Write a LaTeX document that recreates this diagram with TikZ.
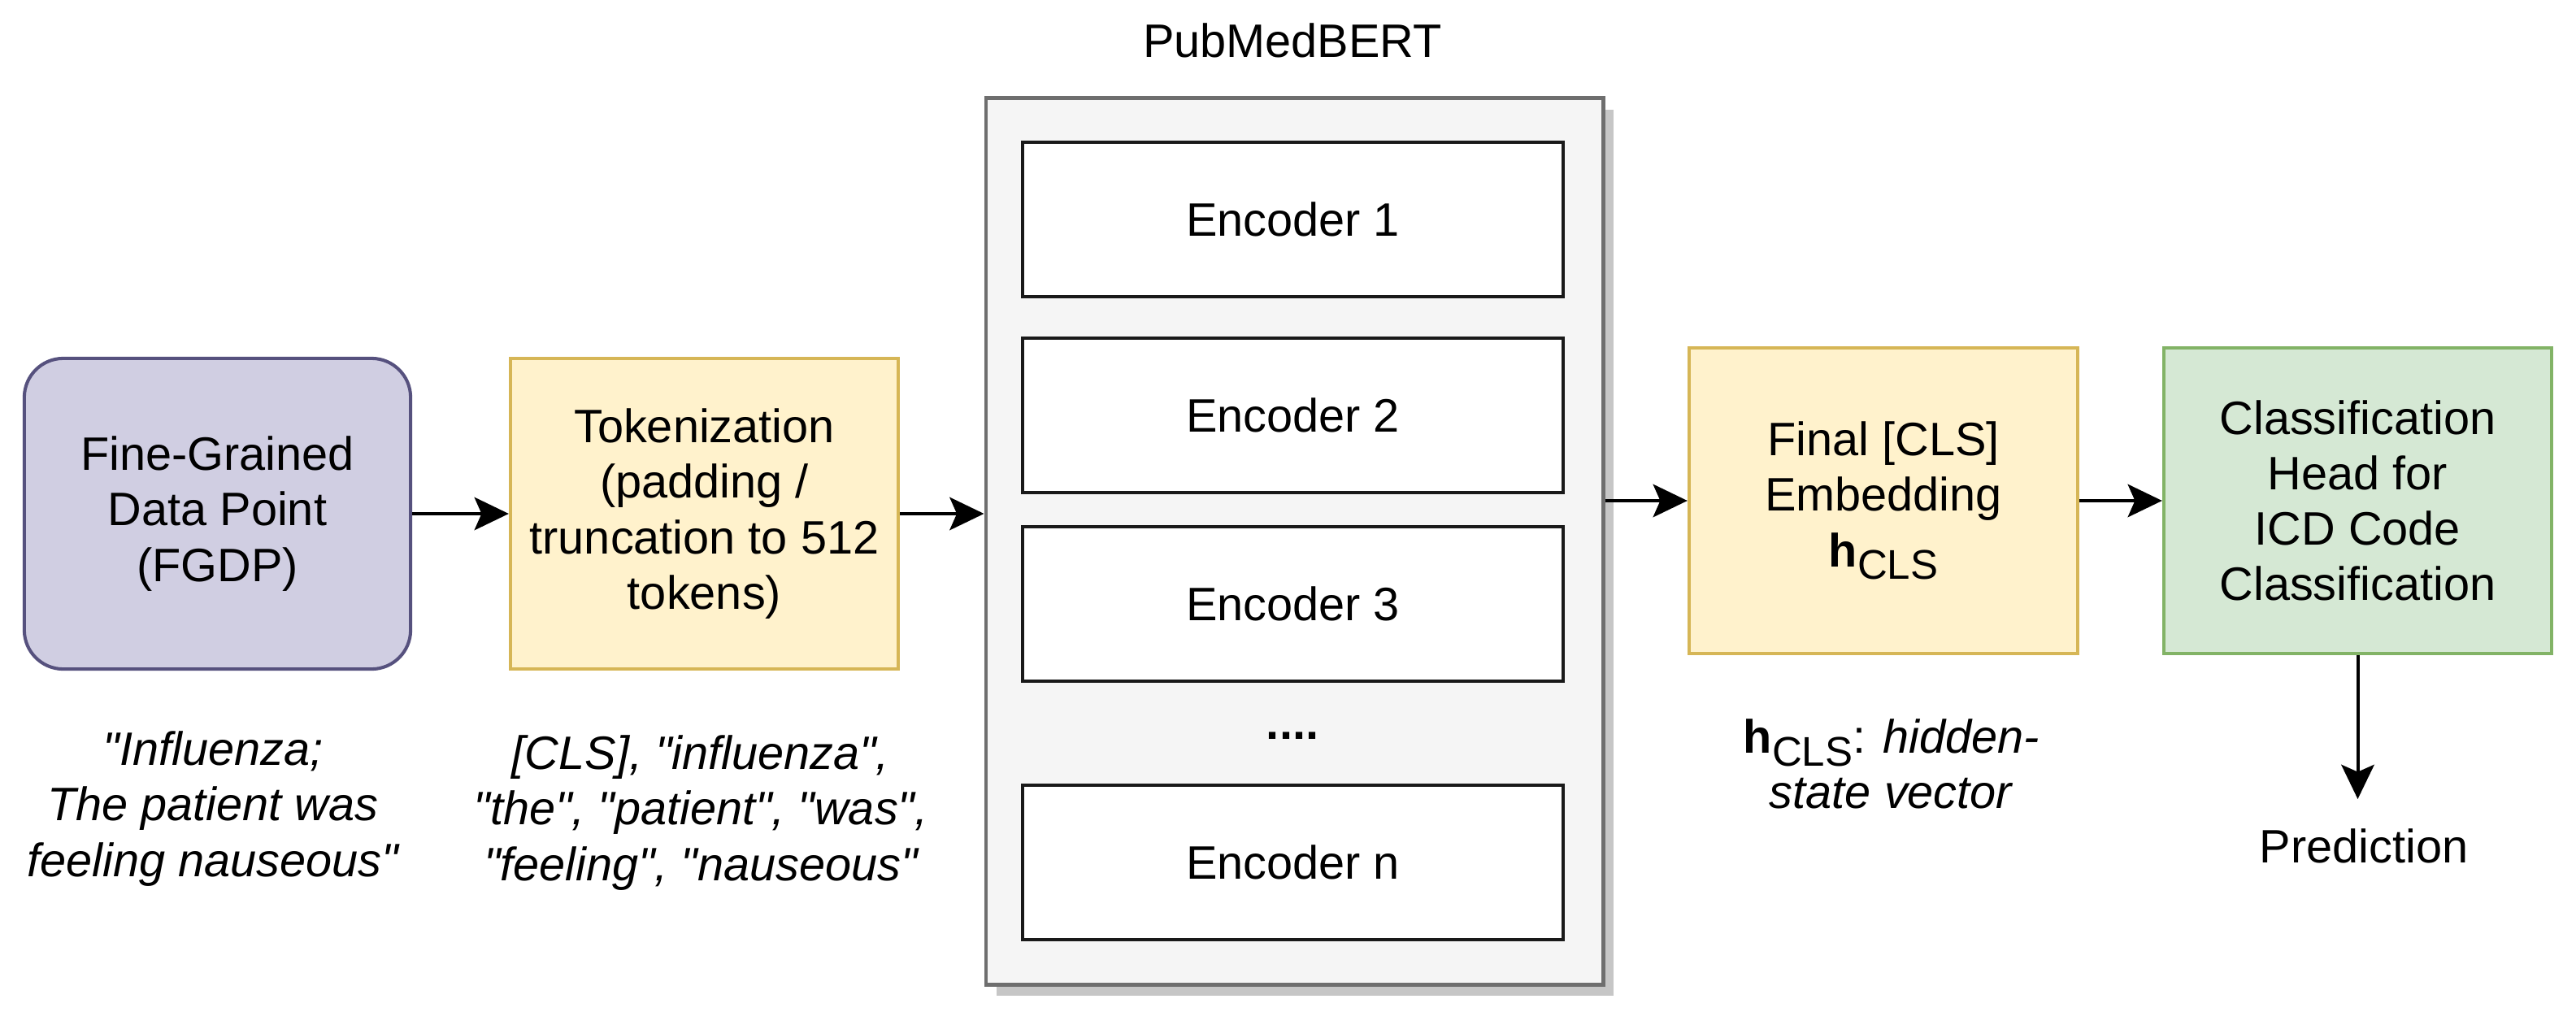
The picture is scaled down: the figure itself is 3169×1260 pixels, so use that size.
\documentclass[tikz,border=0pt]{standalone}
\usepackage{fontspec}
\setmainfont{Liberation Sans}[Ligatures=TeXOff]
\usetikzlibrary{arrows.meta,shadows}
\definecolor{purfill}{HTML}{D0CEE2}
\definecolor{purline}{HTML}{56517E}
\definecolor{yelfill}{HTML}{FFF2CC}
\definecolor{yelline}{HTML}{D6B656}
\definecolor{grnfill}{HTML}{D5E8D4}
\definecolor{grnline}{HTML}{82B366}
\definecolor{bertfill}{HTML}{F5F5F5}
\definecolor{bertline}{HTML}{6E6E6E}
\definecolor{shadowgray}{HTML}{C6C6C6}
\newcommand{\subcls}{\raisebox{-0.27em}{\fontsize{14.5pt}{14.5pt}\selectfont CLS}}
\newcommand{\dq}{\symbol{34}}
\begin{document}
\begin{tikzpicture}[x=0.01cm,y=-0.01cm,
  every node/.style={font=\fontsize{16.4pt}{19.4pt}\selectfont, inner sep=0pt, align=center},
  boxbase/.style={draw, line width=1.15pt},
  purplebox/.style={boxbase, fill=purfill, draw=purline, rounded corners=0.48cm, minimum width=4.75cm, minimum height=3.82cm},
  yellowbox/.style={boxbase, fill=yelfill, draw=yelline},
  greenbox/.style={boxbase, fill=grnfill, draw=grnline},
  bertbox/.style={boxbase, line width=1.3pt, fill=bertfill, draw=bertline, minimum width=7.59cm, minimum height=10.90cm,
    drop shadow={shadow xshift=0.13cm, shadow yshift=-0.14cm, fill=shadowgray, opacity=1}},
  encbox/.style={boxbase, fill=white, draw=black!90, minimum width=6.65cm, minimum height=1.90cm},
  conn/.style={line width=1.15pt, -{Stealth[length=12pt,width=11.5pt,inset=2.5pt]}}
]
\useasboundingbox (0,0) rectangle (3169,1260);

% input
\node[purplebox] (fgdp) at (267.5,632) {Fine-Grained\\Data Point\\(FGDP)};
\node[yellowbox, minimum width=4.77cm, minimum height=3.82cm] (tok) at (866.5,632)
  {Tokenization\\(padding /\\truncation to 512\\tokens)};

% PubMedBERT
\node[bertbox] (bert) at (1592.5,666) {};
\node (bertlabel) at (1590,50) {PubMedBERT};
\node[encbox] (enc1) at (1590.5,270) {Encoder 1};
\node[encbox] (enc2) at (1590.5,511) {Encoder 2};
\node[encbox] (enc3) at (1590.5,743) {Encoder 3};
\node (dots) at (1590,905) {\textbf{....}};
\node[encbox] (encn) at (1590.5,1061) {Encoder n};

% output side
\node[yellowbox, minimum width=4.78cm, minimum height=3.76cm] (cls) at (2317,616)
  {Final [CLS]\\Embedding\\\textbf{h}\subcls};
\node[greenbox, minimum width=4.77cm, minimum height=3.76cm] (head) at (2900.5,616)
  {Classification\\Head for\\ICD Code\\Classification};
\node (pred) at (2908,1041) {Prediction};
\coordinate (predtip) at (2900.5,983);

% captions
\node (fgdptxt) at (262,995) {\itshape \dq Influenza;\\\itshape The patient was\\\itshape feeling nauseous\dq};
\node (toktxt) at (862,1000) {\itshape [CLS], \dq influenza\dq,\\\itshape \dq the\dq, \dq patient\dq, \dq was\dq,\\\itshape \dq feeling\dq, \dq nauseous\dq};
\node (clstxt) at (2327,940) {\textbf{h}\subcls: \textit{hidden-}\\\textit{state vector}};

% connectors
\draw[conn] (fgdp.east) -- (tok.west);
\draw[conn] (tok.east) -- (tok.east -| bert.west);
\draw[conn] (bert.east |- cls.west) -- (cls.west);
\draw[conn] (cls.east) -- (head.west);
\draw[conn] (head.south) -- (predtip);
\end{tikzpicture}
\end{document}
